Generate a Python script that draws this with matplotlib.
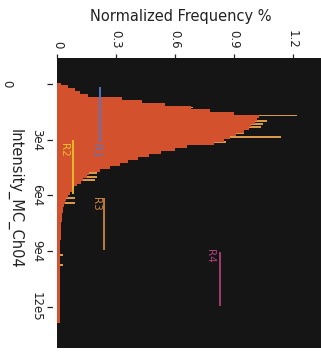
import numpy as np
import matplotlib
matplotlib.use("Agg")
import matplotlib.pyplot as plt
from matplotlib import transforms

# ---- histogram of Intensity_MC_Ch04 (bin width 1600, centred at 0, 1600, ...) ----
bin_width = 1600
freq = [
    0.02, 0.056, 0.092, 0.117, 0.158, 0.33, 0.43, 0.55, 0.68, 0.78,
    0.90, 1.03, 1.02, 1.01, 0.99, 0.98, 0.95, 0.91, 0.88, 0.85,
    0.80, 0.66, 0.60, 0.53, 0.47, 0.41, 0.36, 0.32, 0.27, 0.22,
    0.16, 0.15, 0.13, 0.12, 0.10, 0.085, 0.075, 0.065, 0.055, 0.045,
    0.04, 0.035, 0.03, 0.028, 0.026, 0.025, 0.024, 0.02, 0.02, 0.02,
    0.018, 0.018, 0.018, 0.016, 0.016, 0.016, 0.015, 0.012, 0.012, 0.012,
    0.012, 0.012, 0.012, 0.012, 0.012, 0.012, 0.012, 0.012, 0.012, 0.012,
    0.012, 0.012, 0.012, 0.012, 0.012, 0.012, 0.012, 0.012, 0.012, 0.012,
    0.012,
]

# narrow single-bin spikes of the fine histogram
spike_intensity = [12660, 16970, 19930, 21540, 23160, 26390, 28550, 31240,
                   47940, 50090, 51710, 61400, 64090, 92100, 97490]
spike_freq = [0.69, 1.225, 1.07, 1.05, 1.04, 0.95, 1.14, 0.86,
              0.20, 0.20, 0.19, 0.09, 0.09, 0.03, 0.03]

# ---- gated regions ----
region_names = ["R1", "R2", "R3", "R4"]
region_start = [1600, 30100, 61300, 90400]
region_end = [31200, 59200, 89300, 119500]
region_level = [0.22, 0.082, 0.24, 0.83]
region_colors = ["#4f78cc", "#e8bf2e", "#c8843e", "#b0407c"]
label_level = [0.195, 0.036, 0.20, 0.78]
label_pos = [36000, 35600, 64500, 92700]

x_ticks = [0, 0.3, 0.6, 0.9, 1.2]
x_tick_labels = ["0", "0.3", "0.6", "0.9", "1.2"]
y_ticks = [0, 30000, 60000, 90000, 120000]
y_tick_labels = ["0", "3e4", "6e4", "9e4", "12e5"]

W, H = 321, 352
TXT = "#222222"
fig = plt.figure(figsize=(W / 100, H / 100), dpi=100, facecolor="white")
ax = fig.add_axes([57.3 / W, 4 / H, (W - 57.3) / W, 290 / H])
ax.set_facecolor("#151515")

# spikes sit underneath the filled histogram
ax.barh(spike_intensity, spike_freq, height=650, color="#d89a4a",
        linewidth=0, zorder=1)

# filled step histogram (one polygon, no seams between bins)
centers = np.arange(len(freq)) * bin_width
edges = np.append(centers - bin_width / 2, centers[-1] + bin_width / 2)
vals = np.append(freq, freq[-1])
ax.fill_betweenx(edges, 0, vals, step="post", color="#d3512d",
                 linewidth=0, zorder=2)

for name, s, e, lv, c, ll, lp in zip(region_names, region_start, region_end,
                                      region_level, region_colors,
                                      label_level, label_pos):
    ax.vlines(lv, s, e, colors=c, linewidth=1.3, zorder=3)
    ax.text(ll, lp, name, color=c, fontsize=7.5, rotation=-90,
            ha="center", va="center", zorder=3)

ax.set_xlim(0, (W - 57.3) / 196.0)
ax.set_ylim(142190, -14000)

for sp in ax.spines.values():
    sp.set_visible(False)

ax.spines["left"].set_position(("outward", 3))
ax.spines["left"].set_visible(True)
ax.spines["left"].set_color("white")

ax.set_xticks(x_ticks)
ax.set_xticklabels(x_tick_labels)
ax.tick_params(axis="x", top=True, bottom=False, labeltop=True,
               labelbottom=False, labelrotation=-90, length=3, width=0.9,
               pad=4, labelsize=8.5, color=TXT, labelcolor=TXT)

ax.set_yticks(y_ticks)
ax.set_yticklabels([])
ax.tick_params(axis="y", left=True, length=4, width=0.9, color=TXT)

ytf = transforms.blended_transform_factory(fig.transFigure, ax.transData)
ylab_x = [7, 37, 37, 37, 36]
for v, t, px in zip(y_ticks, y_tick_labels, ylab_x):
    ax.text(px / W, v, t, transform=ytf, rotation=-90, ha="center",
            va="center", fontsize=8.5, color=TXT, clip_on=False)

ax.set_xlabel("Normalized Frequency %", fontsize=10.5, color=TXT)
ax.xaxis.set_label_position("top")
ax.xaxis.set_label_coords((181 - 57.3) / (W - 57.3), (331 - 4) / 290)

ax.set_ylabel("Intensity_MC_Ch04", fontsize=10.5, color=TXT,
              rotation=-90, va="center", ha="center")
ax.yaxis.set_label_coords((15 - 57.3) / (W - 57.3), (153 - 4) / 290)

fig.savefig("out.png", dpi=100, facecolor="white")
